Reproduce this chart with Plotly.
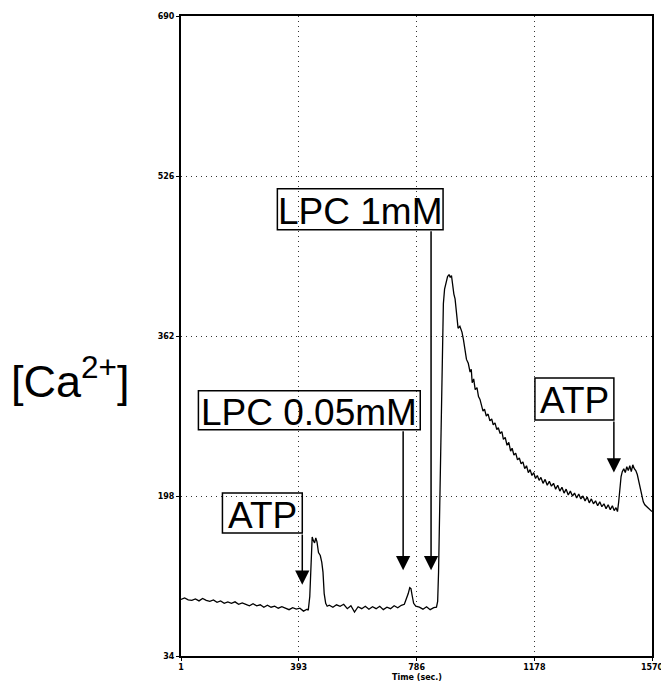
import plotly.graph_objects as go

# Calcium trace: time (s) and [Ca2+] reading
time_s = [
    1, 13, 25, 37, 49, 61, 73, 85, 97, 109, 121, 133, 145, 157, 169, 181, 193, 205,
    217, 229, 241, 253, 265, 277, 289, 301, 313, 325, 337, 349, 361, 373, 385, 397,
    409, 421,
    425, 430, 434, 438, 441, 446, 450, 454, 459, 465, 470, 474, 478, 483, 488,
    495, 507, 519, 531, 543, 555, 567, 579, 591, 603, 615, 627, 639, 651, 663, 675,
    687, 699, 711, 723, 735, 745, 752, 758, 763, 767, 771, 776, 783, 795, 807, 819,
    831, 843, 852,
    856, 859, 862, 865, 868, 871, 875, 879, 884, 889, 894, 898, 902, 906, 910, 914,
    919, 924, 930, 937, 942, 947, 952, 958, 964, 968, 971, 976, 981, 987, 992, 997,
    1002, 1007, 1012, 1018, 1024, 1030, 1036, 1041, 1047, 1053, 1058, 1064, 1070,
    1075, 1081, 1087, 1093, 1099, 1104, 1110, 1116, 1122, 1128, 1134, 1140, 1146,
    1152, 1158, 1164, 1170, 1176, 1182, 1188, 1194, 1200, 1207, 1214, 1221, 1228,
    1235, 1242, 1249, 1256, 1263, 1270, 1277, 1284, 1291, 1298, 1305, 1312, 1319,
    1326, 1333, 1340, 1347, 1354, 1361, 1368, 1375, 1382, 1389, 1396, 1403, 1410,
    1417, 1424, 1431, 1438, 1444, 1450, 1455,
    1459, 1463, 1467, 1471, 1476, 1481, 1486, 1491, 1496, 1501, 1506, 1511, 1516,
    1521, 1526, 1531, 1536, 1541, 1546, 1552, 1558, 1564, 1570,
]
ca_level = [
    92, 93.5, 91.5, 91, 92.5, 90.5, 93, 91, 90, 91.5, 89, 90.5, 88, 89.5, 88, 89.5, 87, 88.5,
    87, 85.5, 87.5, 85.5, 86.5, 84, 86, 84, 85, 83, 84.5, 83, 81.5, 83.5, 82, 83,
    80, 82,
    81, 95, 135, 156, 153, 150, 155, 151, 140, 137, 130, 120, 98, 88, 85,
    86, 84, 86.5, 85, 87, 82.5, 85.5, 79, 84.5, 82.5, 85, 82, 84.5, 82.5, 85, 81.5,
    84, 82.5, 85.5, 83.5, 86, 87, 92, 98, 104, 103, 96, 88, 85, 84, 82, 84.5,
    81.5, 83.5, 84,
    90, 120, 170, 230, 300, 355, 395, 410, 418, 423, 425, 422, 424, 412, 405, 400,
    385, 370, 372, 366, 358, 350, 338, 334, 325, 328, 314, 318, 307, 309, 300, 297,
    290, 285, 287, 280, 282, 275, 277, 271, 273, 266, 268, 262, 264,
    256, 258, 250, 253, 244, 247, 240, 242, 235, 237, 231, 233, 226,
    229, 222, 225, 219, 222, 216, 219, 214, 217, 211, 215, 209, 213,
    208, 211, 205, 209, 203, 207, 201, 205, 199, 203, 198, 201, 196,
    200, 195, 198, 193, 197, 191, 195, 190, 193, 188, 192, 187, 190,
    185, 189, 184, 188, 183, 186, 182,
    192, 207, 218, 223, 226, 222, 228, 224, 229, 223, 230, 226, 224,
    220, 212, 206, 198, 192, 189, 187, 185, 184, 182,
]

x_ticks = [1, 393, 786, 1178, 1570]
y_ticks = [34, 198, 362, 526, 690]

# Labelled events: text, box extents (time, level) and arrow (x, tail, tip)
event_text = ["ATP", "LPC 0.05mM", "LPC 1mM", "ATP"]
box_x0 = [139, 59, 322, 1180]
box_x1 = [405, 798, 874, 1443]
box_y0 = [160, 266, 471, 276]
box_y1 = [201, 306, 513, 319]
arrow_x = [405, 741, 834, 1443]
arrow_tail = [160, 266, 471, 276]
arrow_tip = [107, 122, 122, 222]

fig = go.Figure()
fig.add_trace(go.Scatter(
    x=time_s, y=ca_level, mode="lines",
    line=dict(color="black", width=1.3),
    hoverinfo="skip", showlegend=False,
))

label_font = dict(family="Liberation Sans, Arial, sans-serif", size=37, color="black")

for i, txt in enumerate(event_text):
    fig.add_shape(type="rect", xref="x", yref="y",
                  x0=box_x0[i], x1=box_x1[i], y0=box_y0[i], y1=box_y1[i],
                  line=dict(color="black", width=1.5), fillcolor="rgba(0,0,0,0)")
    fig.add_annotation(x=(box_x0[i] + box_x1[i]) / 2, y=(box_y0[i] + box_y1[i]) / 2,
                       xref="x", yref="y", text=txt, showarrow=False,
                       font=label_font, xanchor="center", yanchor="middle", yshift=-2)
    fig.add_annotation(x=arrow_x[i], y=arrow_tip[i], ax=arrow_x[i], ay=arrow_tail[i],
                       xref="x", yref="y", axref="x", ayref="y", text="",
                       showarrow=True, arrowhead=2, arrowsize=1.9, arrowwidth=1.5,
                       arrowcolor="black")

fig.add_annotation(x=-0.236, y=0.434, xref="paper", yref="paper",
                   text="[Ca<sup>2+</sup>]", showarrow=False,
                   font=dict(family="Liberation Sans, Arial, sans-serif", size=45, color="black"),
                   xanchor="center", yanchor="middle")

small_bold = dict(family="DejaVu Sans, sans-serif", size=8, color="black", weight="bold")

# x-axis title placed just under the tick labels
fig.add_annotation(x=0.5, y=0, xref="paper", yref="paper", yshift=-21,
                   text="Time (sec.)", showarrow=False, font=small_bold,
                   xanchor="center", yanchor="middle")

fig.update_xaxes(
    range=[1, 1570], tickvals=x_ticks, ticktext=[str(v) for v in x_ticks],
    showline=True, linecolor="black", linewidth=1.5, mirror=True,
    showgrid=True, gridcolor="#333", griddash="1px,4px", gridwidth=1,
    ticks="outside", ticklen=3, tickcolor="black", tickfont=small_bold,
    ticklabeloverflow="allow", automargin=False, zeroline=False,
)
fig.update_yaxes(
    range=[34, 690], tickvals=y_ticks, ticktext=[str(v) for v in y_ticks],
    showline=True, linecolor="black", linewidth=2, mirror=True,
    showgrid=True, gridcolor="#333", griddash="1px,4px", gridwidth=1,
    ticks="outside", ticklen=3, tickcolor="black", tickfont=small_bold,
    automargin=False, zeroline=False,
)
fig.update_layout(
    width=661, height=683,
    margin=dict(l=181, r=9, t=16, b=27),
    paper_bgcolor="white", plot_bgcolor="white",
)

fig.write_html("out.html")
